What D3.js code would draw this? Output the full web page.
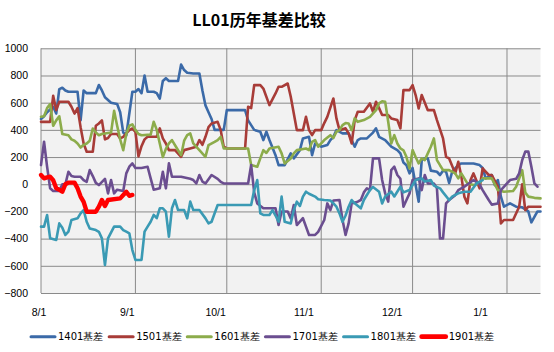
<!DOCTYPE html>
<html>
<head>
<meta charset="utf-8">
<script src="https://cdn.jsdelivr.net/npm/d3@7"></script>
<style>
  body { margin: 0; background: #fff; }
  svg { display: block; font-family: "DejaVu Sans", sans-serif; }
</style>
</head>
<body>
<div id="wrapper"></div>
<script>
//1. Data
const chartTitle = "LL01历年基差比较";
const monthTicks = ["8/1", "9/1", "10/1", "11/1", "12/1", "1/1"];
const xDomain = ["8/1", "1/12"];
const yTicks = [-800, -600, -400, -200, 0, 200, 400, 600, 800, 1000];
const seriesNames = ["1401基差", "1501基差", "1601基差", "1701基差", "1801基差", "1901基差"];

const s1401 = [["8/1",480],["8/2",500],["8/3",530],["8/5",570],["8/6",520],["8/7",700],["8/8",710],["8/9",690],["8/10",680],["8/13",680],["8/14",470],["8/15",690],["8/16",670],["8/19",670],["8/20",730],["8/21",690],["8/22",640],["8/23",620],["8/24",600],["8/26",590],["8/27",530],["8/28",380],["8/29",360],["8/30",520],["8/31",680],["9/1",680],["9/2",700],["9/3",670],["9/4",800],["9/5",680],["9/7",680],["9/8",670],["9/9",630],["9/10",760],["9/11",780],["9/12",760],["9/15",760],["9/16",880],["9/17",840],["9/18",820],["9/20",815],["9/22",815],["9/23",690],["9/24",580],["9/25",530],["9/26",480],["9/27",400],["9/30",400],["10/1",545],["10/7",545],["10/8",470],["10/10",400],["10/12",386],["10/13",325],["10/14",386],["10/15",325],["10/17",214],["10/18",141],["10/20",141],["10/22",227],["10/23",190],["10/25",251],["10/26",337],["10/28",349],["10/29",214],["10/30",300],["11/1",276],["11/3",288],["11/4",325],["11/5",349],["11/6",398],["11/8",374],["11/10",374],["11/11",325],["11/12",276],["11/13",325],["11/14",337],["11/16",337],["11/18",380],["11/19",411],["11/20",349],["11/22",325],["11/24",276],["11/26",251],["11/27",227],["11/28",160],["11/29",140],["11/30",80],["12/1",120],["12/2",-6],["12/3",-128],["12/4",178],["12/5",190],["12/6",190],["12/7",100],["12/9",92],["12/10",68],["12/11",100],["12/12",92],["12/13",10],["12/14",92],["12/16",141],["12/17",153],["12/21",153],["12/23",141],["12/24",120],["12/25",43],["12/27",68],["12/28",-6],["12/29",31],["12/30",-91],["12/31",-165],["1/2",-140],["1/4",-165],["1/6",-170],["1/8",-199],["1/9",-280],["1/10",-240],["1/11",-200],["1/12",-200]];

const s1501 = [["8/1",459],["8/4",459],["8/5",650],["8/6",545],["8/7",607],["8/10",607],["8/11",570],["8/12",520],["8/13",560],["8/14",420],["8/15",300],["8/16",239],["8/18",239],["8/19",430],["8/20",447],["8/21",470],["8/22",330],["8/23",340],["8/24",370],["8/26",370],["8/27",337],["8/28",349],["8/29",374],["8/30",398],["8/31",410],["9/1",386],["9/2",205],["9/3",280],["9/4",330],["9/5",349],["9/8",349],["9/9",411],["9/10",337],["9/11",300],["9/12",251],["9/14",251],["9/16",202],["9/17",251],["9/19",263],["9/21",276],["9/22",325],["9/23",290],["9/24",349],["9/25",420],["9/26",447],["9/28",459],["9/29",398],["9/30",276],["10/1",263],["10/7",263],["10/8",570],["10/9",560],["10/10",729],["10/12",729],["10/13",704],["10/15",582],["10/17",668],["10/18",717],["10/19",717],["10/21",741],["10/22",643],["10/23",521],["10/24",398],["10/26",398],["10/27",496],["10/28",398],["10/29",362],["10/30",398],["11/1",398],["11/2",450],["11/3",496],["11/5",631],["11/6",484],["11/7",398],["11/9",411],["11/10",374],["11/11",300],["11/12",472],["11/13",533],["11/15",533],["11/17",594],["11/18",533],["11/19",607],["11/20",560],["11/21",509],["11/23",509],["11/24",484],["11/26",472],["11/27",411],["11/28",692],["11/30",692],["12/1",729],["12/2",656],["12/3",558],["12/4",656],["12/6",545],["12/8",545],["12/9",472],["12/11",337],["12/12",202],["12/13",190],["12/15",80],["12/16",165],["12/17",60],["12/18",-91],["12/19",-141],["12/20",30],["12/21",80],["12/23",-30],["12/24",117],["12/26",68],["12/27",68],["12/29",-18],["12/30",-288],["12/31",-263],["1/3",-263],["1/5",-165],["1/6",0],["1/7",-190],["1/8",-165],["1/12",-165]];

const s1601 = [["8/1",496],["8/2",500],["8/3",560],["8/4",590],["8/5",430],["8/6",470],["8/7",500],["8/8",370],["8/10",360],["8/11",330],["8/12",320],["8/13",300],["8/14",270],["8/15",290],["8/16",300],["8/17",320],["8/18",410],["8/19",380],["8/20",360],["8/21",370],["8/24",380],["8/25",540],["8/26",430],["8/27",330],["8/28",250],["8/29",370],["8/30",430],["8/31",440],["9/1",400],["9/2",370],["9/3",360],["9/6",365],["9/7",460],["9/8",400],["9/9",300],["9/10",200],["9/11",260],["9/12",300],["9/13",325],["9/15",250],["9/16",214],["9/17",320],["9/18",361],["9/19",374],["9/20",300],["9/22",251],["9/24",202],["9/25",288],["9/27",312],["9/28",325],["9/29",349],["9/30",263],["10/8",263],["10/9",141],["10/11",129],["10/12",190],["10/13",251],["10/14",230],["10/15",263],["10/18",276],["10/19",227],["10/20",153],["10/22",190],["10/23",227],["10/24",251],["10/27",263],["10/28",251],["10/29",312],["10/30",325],["10/31",276],["11/2",325],["11/4",361],["11/5",340],["11/6",386],["11/7",398],["11/8",435],["11/9",450],["11/10",447],["11/11",398],["11/12",484],["11/13",459],["11/15",472],["11/17",496],["11/19",545],["11/20",595],["11/21",610],["11/22",606],["11/23",460],["11/24",300],["11/25",361],["11/26",300],["11/27",263],["11/28",250],["11/29",200],["11/30",116],["12/1",251],["12/2",200],["12/3",153],["12/4",190],["12/5",178],["12/6",227],["12/7",276],["12/8",337],["12/9",178],["12/10",140],["12/11",104],["12/13",104],["12/15",80],["12/16",43],["12/17",80],["12/19",6],["12/21",-6],["12/23",6],["12/24",43],["12/27",43],["12/29",-43],["12/31",-55],["1/3",-50],["1/4",-18],["1/6",104],["1/7",-60],["1/8",-91],["1/10",-100],["1/12",-104]];

const s1701 = [["8/1",141],["8/2",313],["8/3",129],["8/4",-30],["8/5",-50],["8/7",-50],["8/8",0],["8/9",0],["8/10",92],["8/11",60],["8/12",55],["8/14",55],["8/15",31],["8/16",18],["8/17",104],["8/18",60],["8/19",10],["8/20",-6],["8/22",40],["8/23",-67],["8/24",31],["8/25",-67],["8/26",-40],["8/28",-50],["8/29",80],["8/30",129],["8/31",153],["9/1",120],["9/3",120],["9/5",129],["9/6",43],["9/7",-40],["9/9",-30],["9/10",92],["9/11",-30],["9/12",154],["9/13",55],["9/16",55],["9/19",40],["9/20",31],["9/21",6],["9/22",68],["9/23",20],["9/24",6],["9/26",68],["9/28",40],["9/29",18],["9/30",6],["10/8",6],["10/9",141],["10/10",-60],["10/11",-141],["10/13",-177],["10/17",-177],["10/18",-300],["10/19",-200],["10/21",-200],["10/22",-251],["10/23",-153],["10/24",-300],["10/26",-250],["10/27",-312],["10/28",-373],["10/30",-373],["10/31",-350],["11/2",-263],["11/3",-141],["11/4",-190],["11/5",-120],["11/7",-116],["11/8",-263],["11/9",-373],["11/10",-288],["11/11",-141],["11/13",-128],["11/14",-116],["11/15",-60],["11/16",-30],["11/17",-43],["11/18",190],["11/20",190],["11/21",31],["11/22",-67],["11/23",-128],["11/24",104],["11/25",129],["11/26",68],["11/27",40],["11/28",-165],["11/29",-116],["11/30",-67],["12/1",31],["12/3",43],["12/4",-43],["12/5",68],["12/6",6],["12/8",6],["12/9",-30],["12/10",-398],["12/11",-398],["12/12",-141],["12/13",-116],["12/15",-80],["12/16",-43],["12/18",-18],["12/21",31],["12/23",0],["12/24",-43],["12/26",-116],["12/27",-150],["12/29",-141],["12/30",-43],["1/1",6],["1/2",31],["1/4",40],["1/5",80],["1/6",178],["1/7",240],["1/8",240],["1/9",129],["1/10",6],["1/11",-18]];

const s1801 = [["8/1",-312],["8/2",-312],["8/3",-226],["8/4",-398],["8/6",-410],["8/7",-288],["8/8",-320],["8/9",-373],["8/10",-349],["8/11",-263],["8/13",-251],["8/14",-214],["8/15",-190],["8/16",-276],["8/17",-325],["8/19",-337],["8/20",-350],["8/21",-398],["8/22",-594],["8/23",-398],["8/25",-312],["8/27",-312],["8/28",-337],["8/29",-349],["8/30",-361],["8/31",-484],["9/1",-557],["9/3",-557],["9/4",-349],["9/5",-312],["9/6",-276],["9/7",-226],["9/8",-250],["9/9",-177],["9/10",-177],["9/11",-202],["9/12",-386],["9/13",-177],["9/14",-116],["9/15",-190],["9/17",-190],["9/18",-251],["9/19",-128],["9/20",-190],["9/22",-190],["9/24",-251],["9/25",-288],["9/26",-276],["9/28",-153],["9/30",-153],["10/9",-153],["10/10",-43],["10/11",31],["10/12",-214],["10/13",-226],["10/15",-226],["10/16",-190],["10/17",-230],["10/18",-276],["10/19",-91],["10/20",-276],["10/22",-288],["10/23",-190],["10/24",-128],["10/25",-160],["10/26",-91],["10/27",-55],["10/28",-70],["10/30",-91],["10/31",-110],["11/2",-116],["11/4",-120],["11/5",-141],["11/6",-165],["11/7",-214],["11/8",-276],["11/9",-230],["11/10",-165],["11/11",-116],["11/12",-140],["11/14",-177],["11/15",-116],["11/16",-79],["11/17",-43],["11/18",-20],["11/20",-55],["11/21",-141],["11/22",-90],["11/24",-55],["11/25",-90],["11/27",-18],["11/28",-60],["11/30",-43],["12/2",31],["12/4",43],["12/5",20],["12/7",31],["12/8",-10],["12/10",-30],["12/11",-60],["12/13",-116],["12/14",-91],["12/16",-67],["12/18",-55],["12/20",-55],["12/22",6],["12/24",31]];

const s1901 = [["8/1",68],["8/2",43],["8/3",50],["8/4",55],["8/5",30],["8/6",-30],["8/7",-40],["8/8",-55],["8/9",0],["8/10",12],["8/12",12],["8/13",-30],["8/14",-91],["8/15",-130],["8/16",-202],["8/19",-202],["8/20",-165],["8/21",-116],["8/22",-160],["8/23",-116],["8/27",-104],["8/29",-55],["8/30",-85],["8/31",-79]];

const seriesData = [s1401, s1501, s1601, s1701, s1801, s1901];

//2. Dimensions
const dimensions = {
  width: 554,
  height: 352,
  margin: { top: 48.3, right: 13.5, bottom: 59, left: 41 },
};
dimensions.boundedWidth = dimensions.width - dimensions.margin.left - dimensions.margin.right;
dimensions.boundedHeight = dimensions.height - dimensions.margin.top - dimensions.margin.bottom;

// months Aug-Dec belong to the first year, Jan to the next
function parseDay(s) {
  const [m, d] = s.split("/").map(Number);
  return new Date(Date.UTC(m >= 8 ? 2000 : 2001, m - 1, d));
}

//3. Canvas
const wrapper = d3.select("#wrapper")
  .append("svg")
  .attr("width", dimensions.width)
  .attr("height", dimensions.height);

const bounds = wrapper.append("g")
  .attr("transform", `translate(${dimensions.margin.left},${dimensions.margin.top})`);

//4. Scales
const xScale = d3.scaleUtc()
  .domain(xDomain.map(parseDay))
  .range([0, dimensions.boundedWidth]);

const yScale = d3.scaleLinear()
  .domain(d3.extent(yTicks))
  .range([dimensions.boundedHeight, 0]);

// month labels sit on an even spacing of their own
const xLabelScale = d3.scalePoint()
  .domain(monthTicks)
  .range([38.5, 480]);

const colorScale = d3.scaleOrdinal()
  .domain(seriesNames)
  .range(["#3b6aa8", "#a83c38", "#8cac4b", "#6b4e90", "#3a9ab4", "#ff0000"]);

const widthScale = d3.scaleOrdinal()
  .domain(seriesNames)
  .range([2.6, 2.6, 2.6, 2.6, 2.6, 4.4]);

//5. Peripherals
bounds.append("rect")
  .attr("width", dimensions.boundedWidth)
  .attr("height", dimensions.boundedHeight)
  .attr("fill", "#f2f2f2");

const yAxis = bounds.append("g")
  .call(d3.axisLeft(yScale)
    .tickValues(yTicks)
    .tickFormat(d3.format("d"))
    .tickSize(-dimensions.boundedWidth)
    .tickPadding(13));
yAxis.select(".domain").remove();
yAxis.selectAll("line").attr("stroke", "#8a8a8a");
yAxis.selectAll("text")
  .attr("fill", "#000")
  .style("font-size", "10.5px");

bounds.selectAll(".vgrid")
  .data(monthTicks)
  .enter()
  .append("line")
  .attr("class", "vgrid")
  .attr("x1", d => xScale(parseDay(d)))
  .attr("x2", d => xScale(parseDay(d)))
  .attr("y1", 0)
  .attr("y2", dimensions.boundedHeight)
  .attr("stroke", "#8a8a8a");

const xAxis = wrapper.append("g")
  .attr("transform", `translate(0,${dimensions.margin.top + dimensions.boundedHeight})`)
  .call(d3.axisBottom(xLabelScale).tickSize(0).tickPadding(15.5));
xAxis.select(".domain").remove();
xAxis.selectAll("text")
  .attr("fill", "#000")
  .style("font-size", "10.5px");

//6. Lines
const lineGenerator = d3.line()
  .x(d => xScale(parseDay(d[0])))
  .y(d => yScale(d[1]));

bounds.selectAll(".series")
  .data(seriesData)
  .enter()
  .append("path")
  .attr("class", "series")
  .attr("d", d => lineGenerator(d))
  .attr("fill", "none")
  .attr("stroke", (d, i) => colorScale(seriesNames[i]))
  .attr("stroke-width", (d, i) => widthScale(seriesNames[i]))
  .attr("stroke-linejoin", "round")
  .attr("stroke-linecap", "round");

//7. Title
wrapper.append("text")
  .attr("x", 259)
  .attr("y", 26)
  .attr("text-anchor", "middle")
  .style("font-family", "'Noto Sans CJK SC', sans-serif")
  .style("font-weight", "bold")
  .style("font-size", "16px")
  .text(chartTitle);

//8. Legend
const legendX = d3.scalePoint()
  .domain(seriesNames)
  .range([31, 421.7]);
const legendY = 336.7;

const legendItems = wrapper.selectAll(".legend-item")
  .data(seriesNames)
  .enter()
  .append("g")
  .attr("class", "legend-item")
  .attr("transform", d => `translate(${legendX(d)},${legendY})`);

legendItems.append("line")
  .attr("x1", 0)
  .attr("x2", 24)
  .attr("stroke", d => colorScale(d))
  .attr("stroke-width", d => widthScale(d) + 0.4)
  .attr("stroke-linecap", "round");

legendItems.append("text")
  .attr("x", 27)
  .attr("dy", "0.35em")
  .style("font-size", "10px")
  .text(d => d);
</script>
</body>
</html>
